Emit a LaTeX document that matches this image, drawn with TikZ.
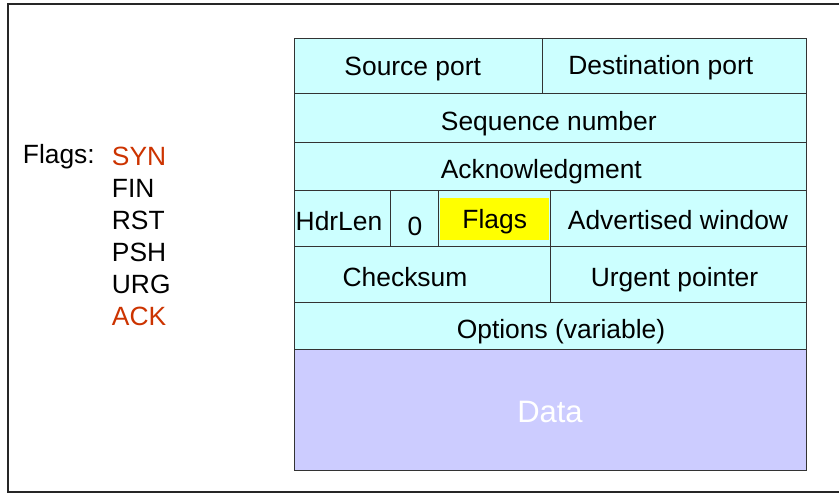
\documentclass[tikz,border=0pt]{standalone}
\usepackage{fontspec}
\setmainfont{Liberation Sans}
\usepackage{xcolor}
\usepackage{tikz}
\usetikzlibrary{positioning,calc}

\definecolor{hdrcyan}{RGB}{204,255,255}
\definecolor{datablue}{RGB}{204,204,255}
\definecolor{flagyellow}{RGB}{255,255,0}
\definecolor{flagred}{RGB}{204,51,0}
\definecolor{edgegray}{RGB}{51,51,51}

\begin{document}
\begin{tikzpicture}[x=1pt, y=-1pt,
    cell/.style={draw=edgegray, line width=0.9pt, fill=hdrcyan},
    field/.style={anchor=base, inner sep=0pt, font=\fontsize{26.4}{30}\selectfont},
    flagname/.style={anchor=base west, inner sep=0pt, font=\fontsize{26.4}{30}\selectfont}]
    \useasboundingbox (0,0) rectangle (839,493);

    % Outer frame (open to the right)
    \draw[line width=1.6pt, black!85] (839,4) -- (8,4) -- (8,492) -- (839,492);

    % Header cells
    \foreach \xa/\ya/\xb/\yb in {294/38/542/93, 542/38/806/93, 294/93/806/142,
        294/142/806/190, 294/190/390/246, 390/190/438/246, 438/190/550/246,
        550/190/806/246, 294/246/550/302, 550/246/806/302, 294/302/806/349} {
        \draw[cell] (\xa,\ya) rectangle (\xb,\yb);
    }
    \fill[flagyellow] (440,198) rectangle (549,240);

    % Data block
    \draw[draw=edgegray, line width=0.9pt, fill=datablue] (294,349) rectangle (806,470);

    % Field labels
    \node[field] (srcport) at (412.7,75) {Source port};
    \node[field] (dstport) at (660.8,74) {Destination port};
    \node[field] (seqnum) at (548.8,130) {Sequence number};
    \node[field] (acknum) at (541.3,178) {Acknowledgment};
    \node[field] (hdrlen) at (339,230) {HdrLen};
    \node[field] (zero) at (415,235) {0};
    \node[field] (flags) at (494.7,228) {Flags};
    \node[field] (advwin) at (678,229) {Advertised window};
    \node[field] (cksum) at (405,286) {Checksum};
    \node[field] (urgptr) at (674.5,286) {Urgent pointer};
    \node[field] (options) at (561,338) {Options (variable)};
    \node[field, text=white, font=\fontsize{31}{35}\selectfont] (data) at (550,422) {Data};

    % Flag list
    \node[flagname] (flagtitle) at (22.7,163) {Flags:};
    \foreach \name/\y/\col in {SYN/165.5/flagred, FIN/197.5/black, RST/229.5/black,
        PSH/261.5/black, URG/293.5/black, ACK/325.5/flagred} {
        \node[flagname, text=\col] (flag-\name) at (111.7,\y) {\name};
    }
\end{tikzpicture}
\end{document}
